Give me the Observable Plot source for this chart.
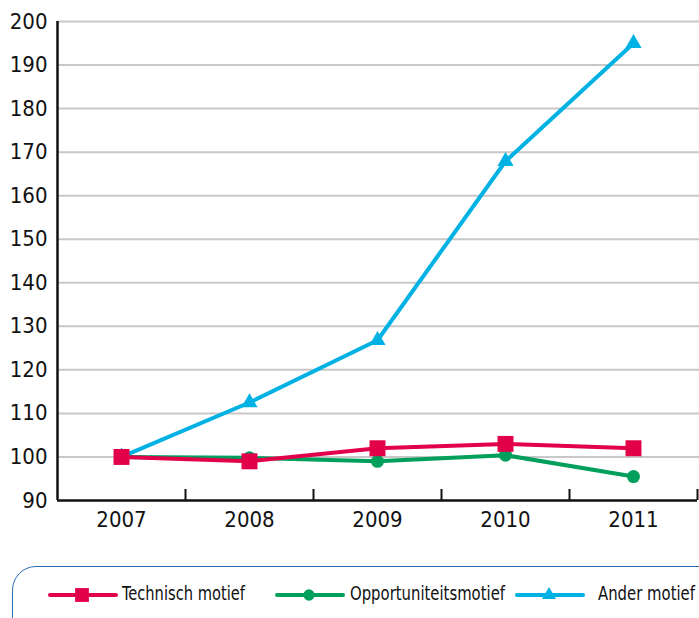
<!DOCTYPE html>
<html><head><meta charset="utf-8">
<script src="https://cdn.jsdelivr.net/npm/d3@7"></script>
<script src="https://cdn.jsdelivr.net/npm/@observablehq/plot@0.6"></script>
<style>
body{margin:0;background:#fff;overflow:hidden;font-family:"DejaVu Sans Condensed","DejaVu Sans",sans-serif;font-stretch:condensed;}
#legend{margin-left:12px;margin-top:26px;width:740px;height:80px;border:1px solid #2a6db0;border-radius:24px;box-sizing:border-box;position:relative;}
.sw{position:absolute;top:18px;}
.lt{position:absolute;top:15px;font-size:19px;color:#111;white-space:nowrap;transform-origin:0 50%;}
</style></head>
<body>
<div id="chart"></div>
<div id="legend"></div>
<script>
const years = [2007, 2008, 2009, 2010, 2011];
const technisch = [100, 99, 102, 103, 102];
const opportuniteits = [100, 99.8, 99, 100.4, 95.5];
const ander = [100, 112.5, 126.8, 167.9, 195];
const seriesNames = ["Technisch motief", "Opportuniteitsmotief", "Ander motief"];
const seriesColors = ["#e2004a", "#00a05c", "#00b2e3"];
const seriesSymbols = ["square", "circle", "triangle"];
const yTicks = [90, 100, 110, 120, 130, 140, 150, 160, 170, 180, 190, 200];
const boundaries = [2007.5, 2008.5, 2009.5, 2010.5, 2011.5];

const mk = (vals, i) => years.map((y, j) => ({year: y, value: vals[j], s: seriesNames[i]}));
const series = [mk(technisch, 0), mk(opportuniteits, 1), mk(ander, 2)];
const drawOrder = [2, 1, 0];
const dotR = [9, 6.5, 6];

const marks = [
  Plot.ruleY(yTicks.filter(t => t > 90), {stroke: "#c8c8c8", strokeWidth: 2, insetRight: -2}),
  Plot.axisY({ticks: yTicks, tickSize: 0, tickPadding: 10, fontSize: 22, label: null, tickFormat: d => String(d)}),
  Plot.axisX({ticks: years, tickSize: 0, tickPadding: 11, fontSize: 22, label: null, tickFormat: d => String(d)}),
  Plot.tickX(boundaries, {x: d => d, stroke: "#111", strokeWidth: 2, insetTop: 468}),
  Plot.ruleY([90], {stroke: "#111", strokeWidth: 2.5}),
  Plot.ruleX([2006.5], {stroke: "#111", strokeWidth: 2.5})
];
for (const i of drawOrder) {
  marks.push(Plot.line(series[i], {x: "year", y: "value", stroke: seriesColors[i], strokeWidth: 4}));
  marks.push(Plot.dot(series[i], {x: "year", y: "value", fill: seriesColors[i], symbol: seriesSymbols[i], r: dotR[i]}));
}

const chart = Plot.plot({
  width: 699,
  height: 540,
  marginLeft: 57,
  marginRight: 2,
  marginTop: 21,
  marginBottom: 40,
  style: {fontFamily: '"DejaVu Sans Condensed","DejaVu Sans",sans-serif', fontStretch: "condensed", color: "#111", background: "#fff"},
  x: {type: "linear", domain: [2006.5, 2011.5], axis: null, label: null},
  y: {domain: [90, 200], axis: null, label: null},
  marks
});
document.getElementById("chart").appendChild(chart);

// legend
const legend = document.getElementById("legend");
const swLeft = [35, 262, 502];
const txtLeft = [109, 337, 585];
const txtWidth = [123, 155, 97];
seriesNames.forEach((name, i) => {
  const sw = d3.create("svg").attr("class", "sw").attr("width", 72).attr("height", 20)
    .style("left", swLeft[i] + "px");
  sw.append("line").attr("x1", 2).attr("x2", 68).attr("y1", 10).attr("y2", 10)
    .attr("stroke", seriesColors[i]).attr("stroke-width", 4).attr("stroke-linecap", "round");
  const sym = {square: d3.symbolSquare, circle: d3.symbolCircle, triangle: d3.symbolTriangle}[seriesSymbols[i]];
  sw.append("path").attr("transform", "translate(34,10)")
    .attr("d", d3.symbol(sym, Math.PI * dotR[i] * dotR[i] * 0.75)()).attr("fill", seriesColors[i]);
  legend.appendChild(sw.node());
  const t = document.createElement("span");
  t.className = "lt";
  t.style.left = txtLeft[i] + "px";
  t.textContent = name;
  legend.appendChild(t);
  const w = t.getBoundingClientRect().width;
  t.style.transform = `scaleX(${txtWidth[i] / w})`;
});
</script>
</body></html>
